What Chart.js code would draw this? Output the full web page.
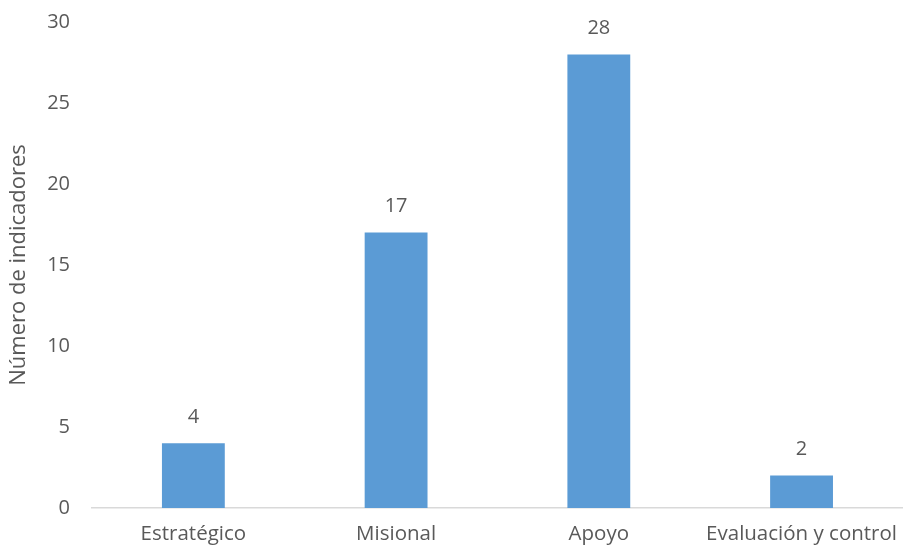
<!DOCTYPE html>
<html>
<head>
<meta charset="utf-8">
<script src="https://cdn.jsdelivr.net/npm/chart.js@4"></script>
<style>
  html, body { margin: 0; padding: 0; background: #fff; }
  #wrap { width: 903px; height: 550px; }
</style>
</head>
<body>
<div id="wrap"><canvas id="barChart" width="903" height="550"></canvas></div>
<script>
const categories = ['Estratégico', 'Misional', 'Apoyo', 'Evaluación y control'];
const indicadores = [4, 17, 28, 2];
const yTicks = [0, 5, 10, 15, 20, 25, 30];

const textColor = '#595959';
const fontFamily = '"Open Sans", Lato, sans-serif';

// labels above each bar
const valueLabels = {
  id: 'valueLabels',
  afterDatasetsDraw(chart) {
    const ctx = chart.ctx;
    const meta = chart.getDatasetMeta(0);
    ctx.save();
    ctx.fillStyle = textColor;
    ctx.font = '20px ' + fontFamily;
    ctx.textAlign = 'center';
    ctx.textBaseline = 'middle';
    meta.data.forEach((bar, i) => {
      ctx.fillText(String(indicadores[i]), bar.x, bar.y - 26);
    });
    ctx.restore();
  }
};

new Chart(document.getElementById('barChart').getContext('2d'), {
  type: 'bar',
  data: {
    labels: categories,
    datasets: [{
      label: 'Número de indicadores',
      data: indicadores,
      backgroundColor: '#5B9BD5',
      categoryPercentage: 1,
      barPercentage: 0.31
    }]
  },
  options: {
    responsive: false,
    animation: false,
    layout: { padding: { top: 22, right: 0, left: 0, bottom: 0 } },
    plugins: {
      legend: { display: false },
      tooltip: { enabled: false }
    },
    scales: {
      x: {
        grid: { display: false },
        border: { color: '#D9D9D9', width: 1.5 },
        ticks: { color: textColor, font: { family: fontFamily, size: 20.5 }, padding: 6 },
        afterFit(scale) { scale.height = 42; }
      },
      y: {
        min: 0,
        max: 30,
        afterBuildTicks(scale) { scale.ticks = yTicks.map(v => ({ value: v })); },
        grid: { display: false },
        border: { display: false },
        ticks: { color: textColor, font: { family: fontFamily, size: 20 }, padding: 14 },
        title: {
          display: true,
          text: 'Número de indicadores',
          color: textColor,
          font: { family: fontFamily, size: 22 },
          padding: { top: 6, bottom: 0 }
        },
        afterFit(scale) {
          scale.width = 92;
          scale.paddingTop = 0;
        }
      }
    }
  },
  plugins: [valueLabels]
});
</script>
</body>
</html>
